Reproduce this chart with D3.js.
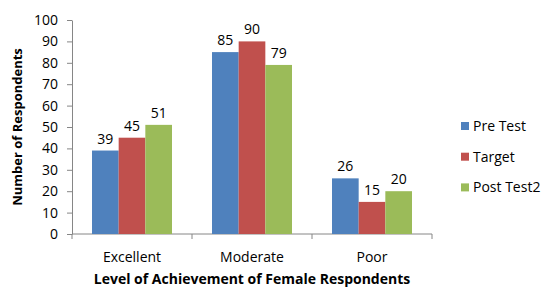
<!DOCTYPE html>
<html>
<head>
<meta charset="utf-8">
<script src="https://cdn.jsdelivr.net/npm/d3@7"></script>
<style>
  body { margin: 0; background: #fff; }
  text { font-family: "Open Sans", "Liberation Sans", sans-serif; fill: #000; }
</style>
</head>
<body>
<div id="chart"></div>
<script>
const categories = ['Excellent', 'Moderate', 'Poor'];
const seriesNames = ['Pre Test', 'Target', 'Post Test2'];
const preTest = [39, 85, 26];
const target = [45, 90, 15];
const postTest2 = [51, 79, 20];
const yTicks = [0, 10, 20, 30, 40, 50, 60, 70, 80, 90, 100];
const colors = ['#4F81BD', '#C0504D', '#9BBB59'];

const width = 544;
const height = 289;
const margin = { left: 72, right: 112, top: 20, bottom: 55 };

const svg = d3.select('#chart')
  .append('svg')
    .attr('width', width)
    .attr('height', height);

const x = d3.scaleBand()
  .domain(categories)
  .range([margin.left, width - margin.right])
  .paddingInner(1 / 3)
  .paddingOuter(1 / 6);

const xs = d3.scaleBand()
  .domain(seriesNames)
  .range([0, x.bandwidth()]);

const y = d3.scaleLinear()
  .domain([0, 100])
  .range([height - margin.bottom, margin.top]);

const rows = categories.map((c, i) => ({
  cat: c,
  vals: [preTest[i], target[i], postTest2[i]]
}));

// y axis
const yAxis = svg.append('g')
  .attr('transform', `translate(${margin.left},0)`)
  .call(d3.axisLeft(y).tickValues(yTicks).tickSize(5).tickSizeOuter(0).tickPadding(9));
yAxis.select('.domain').attr('stroke', '#868686');
yAxis.selectAll('.tick line').attr('stroke', '#868686');
yAxis.selectAll('.tick text').style('font-size', '14px');

// x axis line + boundary ticks
const x0 = y(0);
const step = x.step();
svg.append('line')
  .attr('x1', margin.left).attr('x2', width - margin.right)
  .attr('y1', x0).attr('y2', x0)
  .attr('stroke', '#868686');
svg.append('g')
  .selectAll('line')
  .data(d3.range(categories.length + 1))
  .enter()
    .append('line')
      .attr('x1', i => margin.left + i * step)
      .attr('x2', i => margin.left + i * step)
      .attr('y1', x0)
      .attr('y2', x0 + 5)
      .attr('stroke', '#868686');

svg.append('g')
  .selectAll('text')
  .data(categories)
  .enter()
    .append('text')
      .attr('x', d => x(d) + x.bandwidth() / 2)
      .attr('y', x0 + 28)
      .attr('text-anchor', 'middle')
      .style('font-size', '14px')
      .text(d => d);

// bars
const group = svg.append('g')
  .selectAll('g')
  .data(rows)
  .enter()
    .append('g')
      .attr('transform', d => `translate(${x(d.cat)},0)`);

group.selectAll('rect')
  .data(d => d.vals.map((v, i) => ({ v, s: seriesNames[i], i })))
  .enter()
    .append('rect')
      .attr('x', d => xs(d.s))
      .attr('width', xs.bandwidth())
      .attr('y', d => y(d.v))
      .attr('height', d => y(0) - y(d.v))
      .attr('fill', d => colors[d.i]);

group.selectAll('text')
  .data(d => d.vals.map((v, i) => ({ v, s: seriesNames[i] })))
  .enter()
    .append('text')
      .attr('x', d => xs(d.s) + xs.bandwidth() / 2)
      .attr('y', d => y(d.v) - 7)
      .attr('text-anchor', 'middle')
      .style('font-size', '14px')
      .text(d => d.v);

// axis titles
svg.append('text')
  .attr('x', (margin.left + width - margin.right) / 2)
  .attr('y', 284)
  .attr('text-anchor', 'middle')
  .style('font-size', '14px')
  .style('font-weight', 'bold')
  .text('Level of Achievement of Female Respondents');

svg.append('text')
  .attr('transform', `translate(22,${(y(0) + y(100)) / 2}) rotate(-90)`)
  .attr('text-anchor', 'middle')
  .style('font-size', '13px')
  .style('font-weight', 'bold')
  .text('Number of Respondents');

// legend
const legend = svg.append('g')
  .selectAll('g')
  .data(seriesNames)
  .enter()
    .append('g')
      .attr('transform', (d, i) => `translate(461,${122 + i * 30.7})`);

legend.append('rect')
  .attr('width', 8)
  .attr('height', 8)
  .attr('fill', (d, i) => colors[i]);

legend.append('text')
  .attr('x', 12)
  .attr('y', 9)
  .style('font-size', '14px')
  .text(d => d);
</script>
</body>
</html>
